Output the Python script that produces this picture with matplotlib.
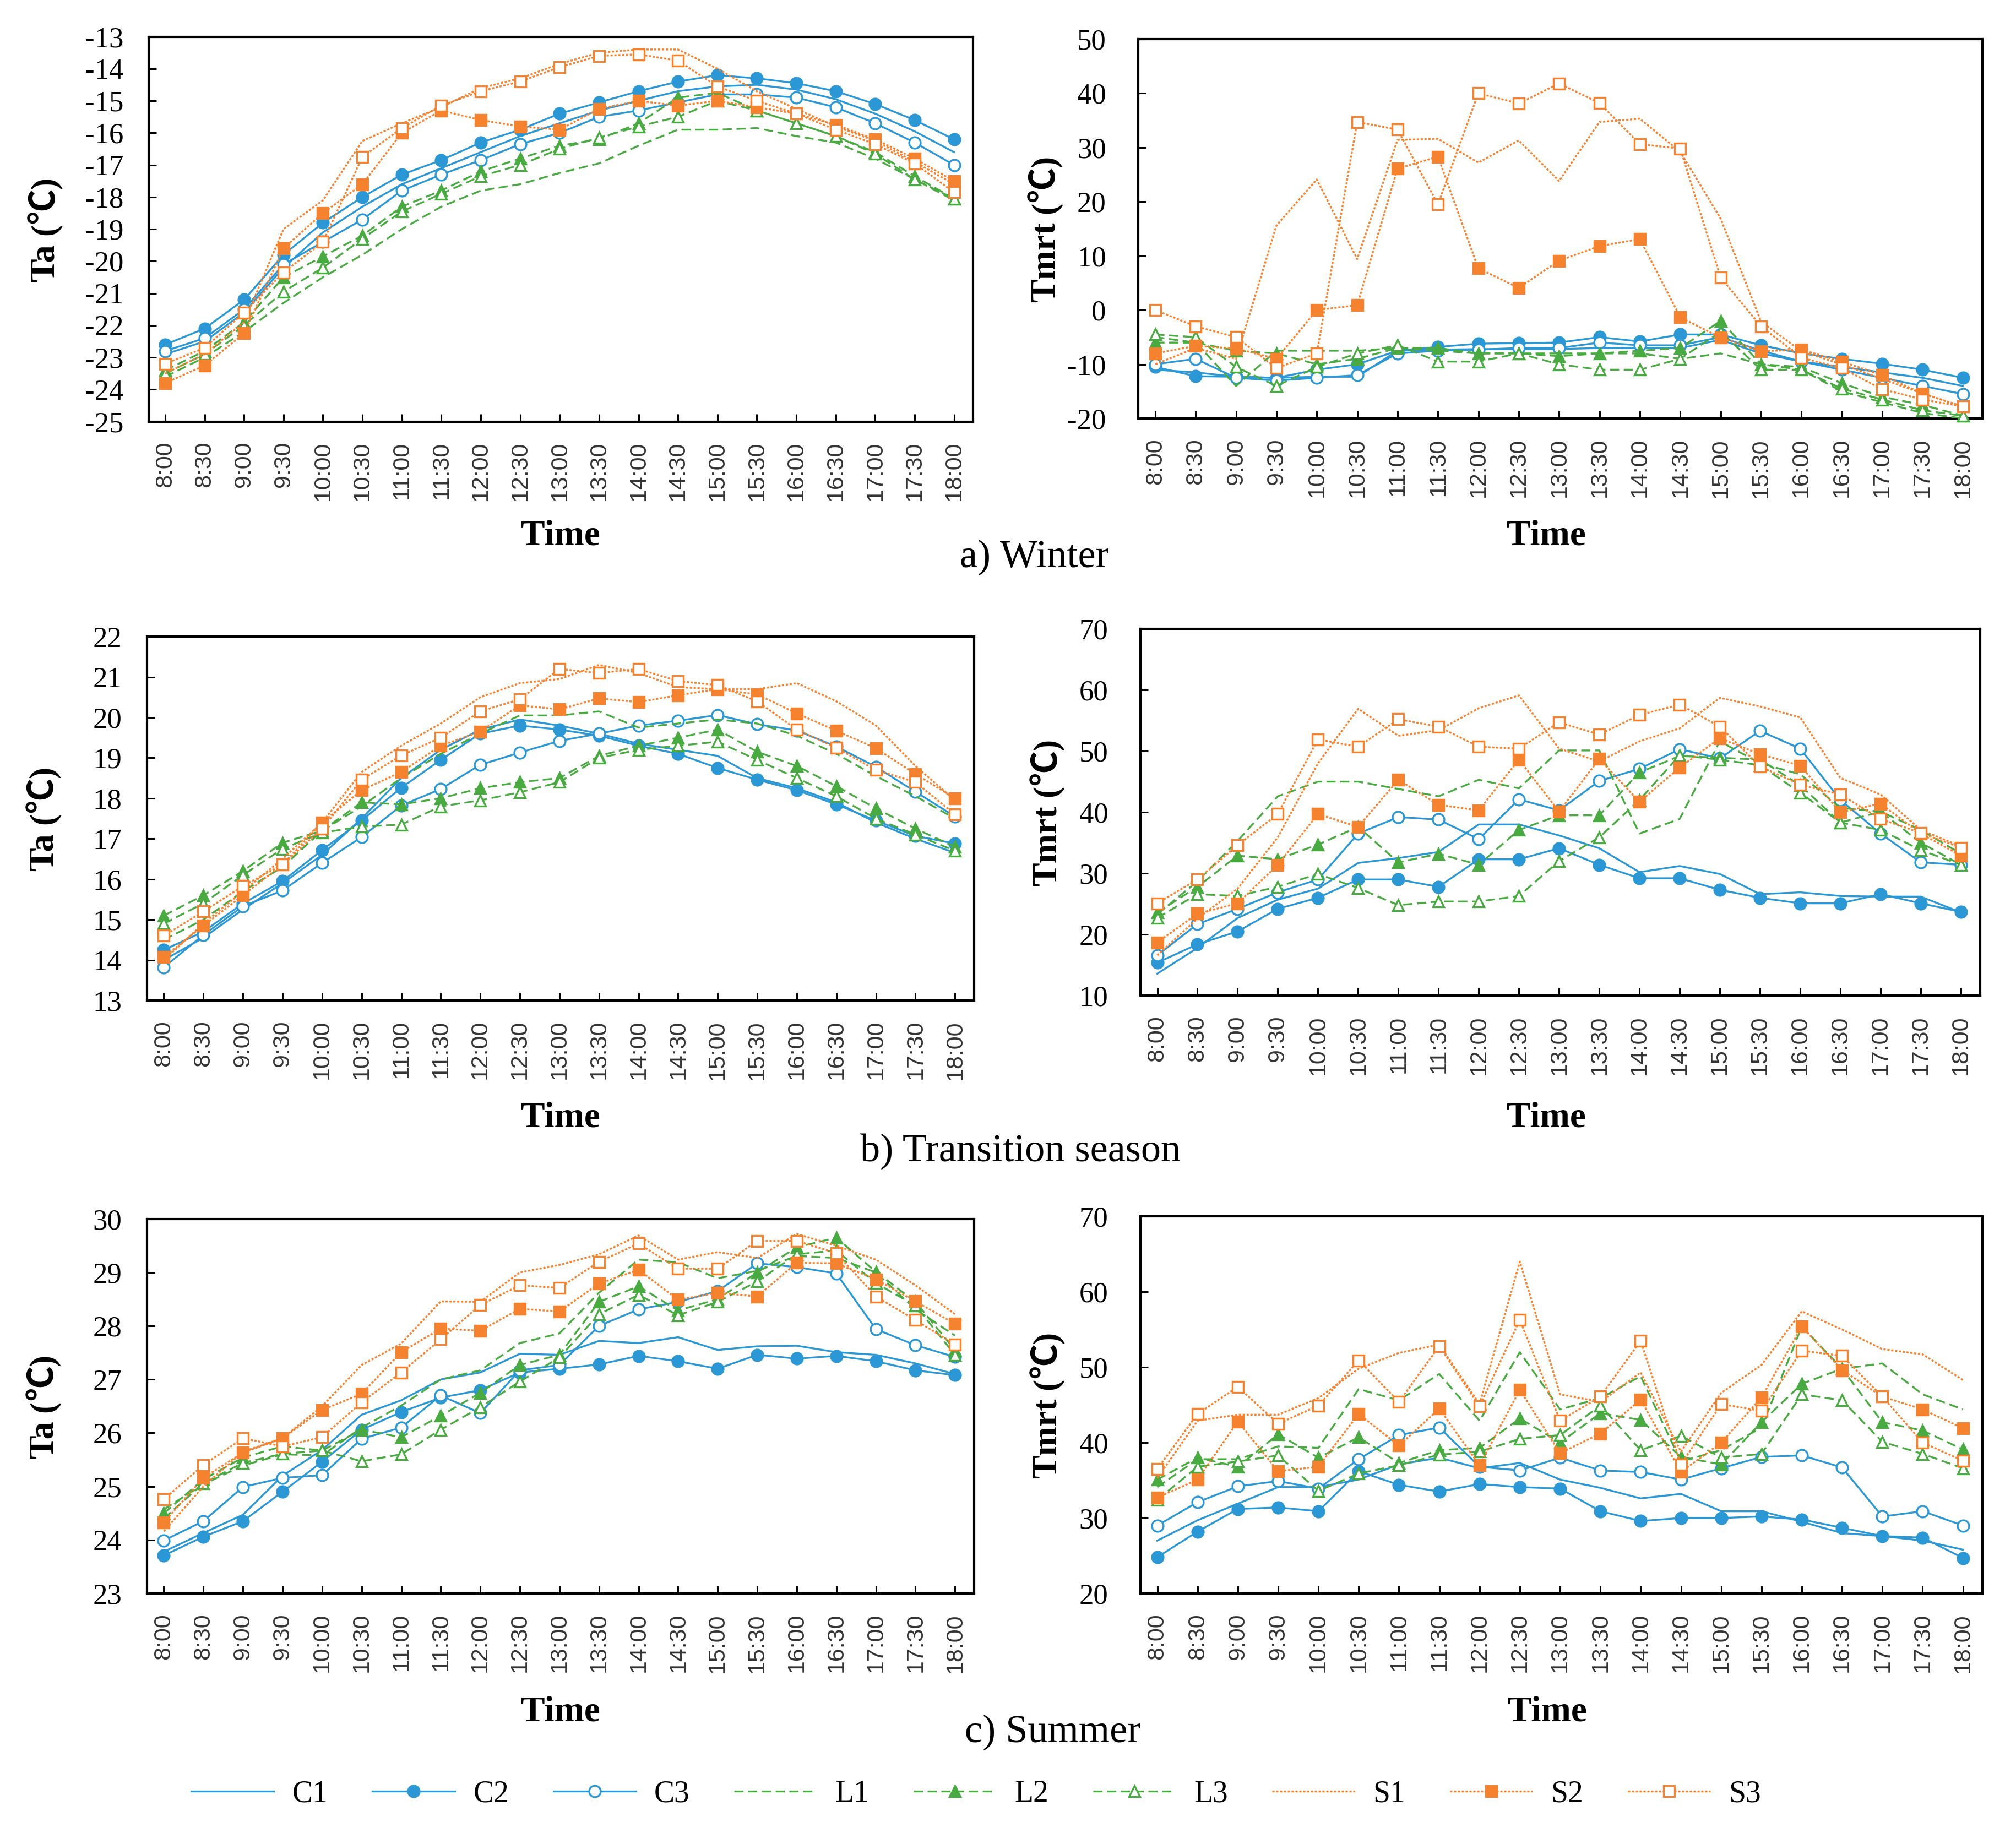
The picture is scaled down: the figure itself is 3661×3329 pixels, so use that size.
import matplotlib
matplotlib.use('Agg')
import matplotlib.pyplot as plt
from matplotlib.lines import Line2D

# ============================================================================
# DATA
# ============================================================================

TIMES = ['8:00', '8:30', '9:00', '9:30', '10:00', '10:30', '11:00', '11:30',
         '12:00', '12:30', '13:00', '13:30', '14:00', '14:30', '15:00', '15:30',
         '16:00', '16:30', '17:00', '17:30', '18:00']
SERIES = ['C1', 'C2', 'C3', 'L1', 'L2', 'L3', 'S1', 'S2', 'S3']

# a) Winter - Ta
winter_ta_c1 = [-22.9, -22.5, -21.6, -20.2, -19.1, -18.3, -17.6, -17.1, -16.6, -16.1, -15.7, -15.3, -15.0, -14.7, -14.55, -14.5, -14.65, -14.95, -15.4, -15.95, -16.6]
winter_ta_c2 = [-22.6, -22.1, -21.2, -19.8, -18.8, -18.0, -17.3, -16.85, -16.3, -15.9, -15.4, -15.05, -14.7, -14.4, -14.2, -14.3, -14.45, -14.7, -15.1, -15.6, -16.2]
winter_ta_c3 = [-22.8, -22.4, -21.5, -20.1, -19.4, -18.7, -17.8, -17.3, -16.85, -16.35, -16.0, -15.5, -15.3, -15.05, -14.8, -14.8, -14.9, -15.2, -15.7, -16.3, -17.0]
winter_ta_l1 = [-23.6, -23.0, -22.2, -21.3, -20.5, -19.8, -19.0, -18.3, -17.8, -17.6, -17.25, -16.95, -16.4, -15.9, -15.9, -15.85, -16.1, -16.3, -16.8, -17.45, -18.1]
winter_ta_l2 = [-23.4, -22.8, -21.9, -20.5, -19.85, -19.2, -18.3, -17.8, -17.2, -16.8, -16.4, -16.2, -15.7, -14.9, -14.75, -15.3, -15.7, -16.1, -16.6, -17.35, -18.05]
winter_ta_l3 = [-23.5, -22.9, -22.0, -20.95, -20.2, -19.3, -18.45, -17.9, -17.35, -17.0, -16.5, -16.15, -15.8, -15.5, -15.0, -15.3, -15.7, -16.1, -16.65, -17.45, -18.05]
winter_ta_s1 = [-23.5, -22.9, -21.9, -19.0, -18.1, -16.25, -15.7, -15.2, -14.6, -14.3, -13.85, -13.5, -13.4, -13.4, -14.0, -14.7, -15.25, -15.8, -16.25, -16.9, -17.6]
winter_ta_s2 = [-23.8, -23.25, -22.25, -19.6, -18.5, -17.6, -16.0, -15.3, -15.6, -15.8, -15.9, -15.25, -15.0, -15.15, -15.0, -15.2, -15.4, -15.75, -16.2, -16.8, -17.5]
winter_ta_s3 = [-23.2, -22.7, -21.6, -20.35, -19.4, -16.75, -15.85, -15.15, -14.7, -14.4, -13.95, -13.6, -13.55, -13.75, -14.55, -15.0, -15.4, -15.9, -16.35, -16.95, -17.85]

# a) Winter - Tmrt
winter_tmrt_c1 = [-11, -11.5, -12.3, -12.5, -12.3, -12.3, -7.5, -7.3, -7.2, -7.2, -7.2, -7, -7, -7, -5.5, -8, -9.5, -10.5, -11.5, -12.5, -14]
winter_tmrt_c2 = [-10.5, -12.2, -12.3, -12.5, -11, -10, -7.5, -6.8, -6.2, -6.1, -6, -5, -5.8, -4.5, -4.5, -6.5, -8, -9, -9.9, -11, -12.5]
winter_tmrt_c3 = [-10, -9, -12.5, -13, -12.5, -12, -8, -7.5, -7.3, -7, -7, -6, -6.5, -6.5, -5, -7.5, -9.5, -11, -12.5, -14, -15.5]
winter_tmrt_l1 = [-5, -6, -14, -7.5, -7.5, -7.5, -7, -7.5, -8, -8, -8, -8, -8, -9, -8, -10, -11, -15, -17, -19, -20]
winter_tmrt_l2 = [-6, -6, -7.5, -8, -10, -9, -7, -7, -8, -8, -8.5, -8, -7.5, -7, -2, -10, -10.5, -13.5, -16, -17.5, -19.5]
winter_tmrt_l3 = [-4.5, -5, -10.5, -14, -10.5, -8, -6.5, -9.5, -9.5, -8, -10, -11, -11, -9, -4, -11, -11, -14.5, -16.5, -18.5, -19.5]
winter_tmrt_s1 = [-10, -7, -9, 15.6, 24.1, 9.4, 31.4, 31.6, 27.2, 31.3, 23.8, 34.7, 35.3, 29.2, 16.9, -2.1, -7.6, -10, -12.7, -15.4, -17.8]
winter_tmrt_s2 = [-8, -6.6, -7.1, -9, 0, 0.9, 26.1, 28.3, 7.7, 4.1, 9.1, 11.8, 13.1, -1.3, -5.1, -7.6, -7.3, -9.5, -12, -15.4, -17.8]
winter_tmrt_s3 = [0, -3, -5, -10.7, -8, 34.7, 33.3, 19.5, 40, 38.1, 41.8, 38.2, 30.6, 29.8, 6.0, -3, -8.8, -10.7, -14.6, -16.5, -17.8]

# b) Transition season - Ta
trans_ta_c1 = [14.0, 14.55, 15.25, 15.9, 16.6, 17.5, 18.5, 19.2, 19.7, 19.95, 19.8, 19.6, 19.35, 19.2, 19.05, 18.5, 18.25, 17.9, 17.4, 17.0, 16.65]
trans_ta_c2 = [14.25, 14.7, 15.4, 15.95, 16.72, 17.45, 18.26, 18.95, 19.6, 19.8, 19.7, 19.55, 19.3, 19.1, 18.75, 18.46, 18.2, 17.85, 17.45, 17.07, 16.88]
trans_ta_c3 = [13.82, 14.62, 15.33, 15.72, 16.4, 17.04, 17.82, 18.23, 18.83, 19.13, 19.42, 19.6, 19.8, 19.92, 20.06, 19.83, 19.68, 19.28, 18.78, 18.16, 17.55]
trans_ta_l1 = [14.5, 15.0, 15.7, 16.3, 17.2, 17.8, 18.5, 19.1, 19.6, 20.05, 20.05, 20.15, 19.75, 19.85, 19.95, 19.85, 19.55, 19.1, 18.55, 18.05, 17.5]
trans_ta_l2 = [15.1, 15.6, 16.2, 16.9, 17.2, 17.9, 17.85, 18.0, 18.25, 18.4, 18.5, 19.05, 19.3, 19.5, 19.7, 19.15, 18.8, 18.3, 17.75, 17.25, 16.8]
trans_ta_l3 = [14.9, 15.4, 16.1, 16.75, 17.15, 17.3, 17.35, 17.8, 17.95, 18.15, 18.4, 19.0, 19.2, 19.3, 19.4, 18.95, 18.5, 18.05, 17.5, 17.1, 16.7]
trans_ta_s1 = [14.0, 14.9, 15.7, 16.5, 17.4, 18.65, 19.3, 19.85, 20.5, 20.85, 20.95, 21.3, 21.1, 20.75, 20.7, 20.7, 20.85, 20.4, 19.8, 18.8, 17.95]
trans_ta_s2 = [14.07, 14.85, 15.6, 16.36, 17.4, 18.2, 18.65, 19.3, 19.65, 20.3, 20.2, 20.47, 20.38, 20.55, 20.7, 20.57, 20.1, 19.67, 19.24, 18.6, 18.0]
trans_ta_s3 = [14.6, 15.2, 15.83, 16.36, 17.25, 18.46, 19.06, 19.5, 20.15, 20.45, 21.2, 21.1, 21.2, 20.9, 20.8, 20.4, 19.7, 19.25, 18.7, 18.4, 17.6]

# b) Transition season - Tmrt
trans_tmrt_c1 = [13.6, 17.8, 22.7, 25.7, 27.5, 31.7, 32.5, 33.5, 38, 38, 36.2, 34.1, 30.2, 31.2, 29.9, 26.6, 26.9, 26.3, 26.2, 26.2, 23.6]
trans_tmrt_c2 = [15.4, 18.4, 20.5, 24.2, 26, 29, 29, 27.8, 32.3, 32.3, 34.1, 31.4, 29.2, 29.2, 27.3, 26, 25.1, 25.1, 26.6, 25.1, 23.7]
trans_tmrt_c3 = [16.6, 21.7, 24.2, 26.9, 29, 36.5, 39.2, 38.8, 35.6, 42.1, 40.3, 45.1, 47.1, 50.3, 48.8, 53.3, 50.4, 42, 36.5, 31.8, 31.4]
trans_tmrt_l1 = [23.3, 28.7, 35.3, 42.6, 45, 45, 43.8, 42.6, 45.3, 43.9, 50.1, 50.1, 36.5, 38.9, 51.6, 48, 46.2, 40.7, 40.1, 37.1, 33.2]
trans_tmrt_l2 = [23.6, 27.8, 32.9, 32.3, 34.7, 37.6, 31.8, 33.2, 31.4, 37.1, 39.5, 39.5, 46.5, 49.2, 48.9, 48.6, 44.4, 38.3, 40.1, 35, 31.4]
trans_tmrt_l3 = [22.7, 26.6, 26.3, 27.8, 29.9, 27.6, 24.8, 25.4, 25.4, 26.3, 32, 35.9, 42, 49.3, 48.6, 47.7, 43.2, 38.3, 37.1, 33.8, 31.4]
trans_tmrt_s1 = [16.6, 22.6, 27.5, 35.9, 48, 56.9, 52.5, 53.4, 57, 59.1, 50.4, 48.3, 51.6, 53.7, 58.7, 57.3, 55.5, 45.6, 42.9, 37.1, 34.4]
trans_tmrt_s2 = [18.7, 23.4, 25.1, 31.4, 39.7, 37.6, 45.3, 41.2, 40.3, 48.6, 40.1, 48.7, 41.7, 47.3, 52.1, 49.5, 47.6, 40, 41.4, 36.5, 32.9]
trans_tmrt_s3 = [25.1, 29, 34.6, 39.7, 51.9, 50.7, 55.2, 54, 50.7, 50.4, 54.7, 52.7, 55.9, 57.6, 54, 47.5, 44.5, 42.9, 38.9, 36.6, 34.2]

# c) Summer - Ta
summer_ta_c1 = [23.78, 24.13, 24.47, 25.2, 25.68, 26.34, 26.61, 27.0, 27.13, 27.48, 27.46, 27.72, 27.68, 27.79, 27.55, 27.62, 27.63, 27.51, 27.46, 27.3, 27.1]
summer_ta_c2 = [23.71, 24.06, 24.35, 24.9, 25.46, 26.06, 26.39, 26.66, 26.8, 27.13, 27.2, 27.28, 27.44, 27.34, 27.2, 27.46, 27.39, 27.44, 27.34, 27.17, 27.08]
summer_ta_c3 = [23.99, 24.35, 24.99, 25.16, 25.21, 25.89, 26.1, 26.7, 26.37, 27.17, 27.27, 28.0, 28.31, 28.45, 28.65, 29.17, 29.1, 28.98, 27.94, 27.64, 27.42]
summer_ta_l1 = [24.57, 25.04, 25.39, 25.6, 25.58, 26.1, 26.51, 27.0, 27.17, 27.68, 27.86, 28.62, 29.24, 29.19, 28.89, 29.03, 29.31, 29.27, 29.0, 28.31, 27.82]
summer_ta_l2 = [24.5, 25.13, 25.54, 25.75, 25.67, 26.06, 25.92, 26.32, 26.75, 27.27, 27.46, 28.45, 28.74, 28.29, 28.5, 29.0, 29.47, 29.65, 29.01, 28.45, 27.55]
summer_ta_l3 = [24.4, 25.06, 25.44, 25.61, 25.67, 25.47, 25.6, 26.06, 26.48, 26.96, 27.41, 28.22, 28.58, 28.2, 28.45, 28.83, 29.34, 29.41, 28.8, 28.38, 27.46]
summer_ta_s1 = [24.16, 25.0, 25.65, 25.9, 26.5, 27.27, 27.67, 28.46, 28.45, 29.0, 29.14, 29.34, 29.69, 29.24, 29.38, 29.27, 29.72, 29.5, 29.24, 28.76, 28.22]
summer_ta_s2 = [24.33, 25.16, 25.63, 25.9, 26.43, 26.73, 27.51, 27.95, 27.91, 28.32, 28.27, 28.79, 29.05, 28.49, 28.62, 28.55, 29.18, 29.17, 28.87, 28.46, 28.04]
summer_ta_s3 = [24.76, 25.4, 25.9, 25.75, 25.92, 26.57, 27.13, 27.75, 28.39, 28.76, 28.71, 29.2, 29.54, 29.07, 29.07, 29.59, 29.59, 29.36, 28.55, 28.11, 27.65]

# c) Summer - Tmrt
summer_tmrt_c1 = [27, 29.7, 31.9, 34.1, 34.1, 35.1, 37.1, 38, 36.6, 37.3, 35.1, 34, 32.6, 33.2, 30.9, 30.9, 29.5, 28, 27.6, 27, 25.8]
summer_tmrt_c2 = [24.8, 28.2, 31.2, 31.4, 30.9, 36.2, 34.4, 33.5, 34.5, 34.1, 33.9, 30.9, 29.6, 30, 30, 30.2, 29.8, 28.7, 27.6, 27.4, 24.7]
summer_tmrt_c3 = [29, 32.1, 34.2, 34.9, 33.9, 37.8, 41, 42, 36.8, 36.3, 38, 36.3, 36.1, 35.1, 36.6, 38.1, 38.3, 36.7, 30.2, 30.9, 29]
summer_tmrt_l1 = [34.1, 37.8, 37.8, 39.5, 39.3, 47.1, 45.6, 49.1, 42.9, 52, 44.4, 45.9, 48.8, 37.5, 39, 42, 55.4, 49.8, 50.5, 46.4, 44.4]
summer_tmrt_l2 = [35.1, 38, 36.8, 41.1, 38, 40.7, 37.3, 39, 39.3, 43.2, 40, 43.9, 43, 38.1, 37.1, 42.7, 47.8, 49.8, 42.7, 41.6, 39.1]
summer_tmrt_l3 = [32.4, 36.8, 37.5, 38.3, 33.6, 35.9, 37, 38.4, 38.8, 40.5, 41, 44.9, 39, 40.9, 38, 38.5, 46.4, 45.6, 40.1, 38.5, 36.6]
summer_tmrt_s1 = [35.3, 42.9, 43.7, 43.7, 45.9, 49.8, 51.9, 53, 45.1, 64, 46.4, 45.4, 49.3, 38.8, 46.6, 50.3, 57.4, 55, 52.4, 51.7, 48.3]
summer_tmrt_s2 = [32.7, 35.1, 42.8, 36.2, 36.8, 43.8, 39.6, 44.5, 37, 47, 38.6, 41.2, 45.7, 36.1, 40, 46, 55.4, 49.6, 46.1, 44.4, 41.9]
summer_tmrt_s3 = [36.5, 43.8, 47.4, 42.5, 44.9, 50.9, 45.4, 52.8, 44.8, 56.3, 42.9, 46.1, 53.5, 37.1, 45.1, 44.2, 52.2, 51.5, 46.1, 40, 37.6]

# ============================================================================
# STYLE
# ============================================================================

BLUE = '#2B97D4'
GREEN = '#4AAA42'
ORANGE = '#F5822F'

SOLID = '-'
DASHED = (0, (5, 2.5))
DOTTED = (0, (1.2, 0.9))

STYLES = {
    'C1': dict(color=BLUE, linestyle=SOLID, marker=None, filled=True),
    'C2': dict(color=BLUE, linestyle=SOLID, marker='o', filled=True),
    'C3': dict(color=BLUE, linestyle=SOLID, marker='o', filled=False),
    'L1': dict(color=GREEN, linestyle=DASHED, marker=None, filled=True),
    'L2': dict(color=GREEN, linestyle=DASHED, marker='^', filled=True),
    'L3': dict(color=GREEN, linestyle=DASHED, marker='^', filled=False),
    'S1': dict(color=ORANGE, linestyle=DOTTED, marker=None, filled=True),
    'S2': dict(color=ORANGE, linestyle=DOTTED, marker='s', filled=True),
    'S3': dict(color=ORANGE, linestyle=DOTTED, marker='s', filled=False),
}

LW = 2.4
MS = 15
SERIF = ['Liberation Serif', 'DejaVu Serif']
SANS = ['Liberation Sans', 'DejaVu Sans']
CJK = ['Noto Sans CJK SC', 'DejaVu Sans']

plt.rcParams['font.family'] = SERIF
plt.rcParams['axes.unicode_minus'] = False

FIG_W, FIG_H = 36.62, 33.29


def line_kwargs(name):
    st = STYLES[name]
    kw = dict(color=st['color'], linestyle=st['linestyle'], linewidth=LW)
    if st['marker']:
        kw.update(marker=st['marker'], markersize=MS, markeredgewidth=2.4,
                  markeredgecolor=st['color'],
                  markerfacecolor=st['color'] if st['filled'] else 'white')
    return kw


def vertical_label(fig, x_center, y_center, parts, size):
    """Rotated bold label built from pieces so the degree sign can use a CJK font."""
    renderer = fig.canvas.get_renderer()
    em = size / 72 * fig.dpi
    baseline_x = x_center + 0.33 * em / fig.bbox.width
    pieces = []
    total = 0.0
    for s, fam in parts:
        if s == ' ':
            adv = 0.25 * em / fig.bbox.height
            pieces.append((None, adv))
            total += adv
            continue
        t = fig.text(0, 0, s, fontsize=size, fontweight='bold', family=fam)
        adv = t.get_window_extent(renderer).width / fig.bbox.height
        t.set_rotation(90)
        t.set_rotation_mode('anchor')
        t.set_ha('left')
        t.set_va('baseline')
        pieces.append((t, adv))
        total += adv
    y = y_center - total / 2
    for t, adv in pieces:
        if t is not None:
            t.set_position((baseline_x, y))
        y += adv


def draw_panel(fig, rect, series, ylim, ystep, ylabel, ypad, label_off):
    ax = fig.add_axes(rect)
    x = list(range(len(TIMES)))
    for i, name in enumerate(SERIES):
        ax.plot(x, series[i], zorder=2 + i, clip_on=False, **line_kwargs(name))
    ax.set_xlim(-0.42, len(TIMES) - 1 + 0.48)
    ax.set_ylim(*ylim)
    ax.set_yticks(range(ylim[0], ylim[1] + 1, ystep))
    ax.set_xticks(x)
    ax.set_xticklabels(TIMES, rotation=90, fontsize=31, family=SANS, color='#333333')
    for lab in ax.get_yticklabels():
        lab.set_fontsize(38)
    ax.tick_params(axis='x', direction='in', length=10, width=2.2, pad=26)
    ax.tick_params(axis='y', direction='in', length=10, width=2.2, pad=ypad)
    for sp in ax.spines.values():
        sp.set_linewidth(3)
    vertical_label(fig, rect[0] - label_off, rect[1] + rect[3] / 2,
                   [(ylabel, SERIF), (' ', None), ('(', SERIF), ('℃', CJK), (')', SERIF)], 46)
    return ax


fig = plt.figure(figsize=(FIG_W, FIG_H), dpi=100, facecolor='white')

panels = [
    ([0.0737, 0.7700, 0.4088, 0.2100],
     [winter_ta_c1, winter_ta_c2, winter_ta_c3, winter_ta_l1, winter_ta_l2,
      winter_ta_l3, winter_ta_s1, winter_ta_s2, winter_ta_s3], (-25, -13), 1, 'Ta'),
    ([0.5645, 0.7717, 0.4185, 0.2070],
     [winter_tmrt_c1, winter_tmrt_c2, winter_tmrt_c3, winter_tmrt_l1, winter_tmrt_l2,
      winter_tmrt_l3, winter_tmrt_s1, winter_tmrt_s2, winter_tmrt_s3], (-20, 50), 10, 'Tmrt'),
    ([0.0730, 0.4542, 0.4100, 0.1985],
     [trans_ta_c1, trans_ta_c2, trans_ta_c3, trans_ta_l1, trans_ta_l2,
      trans_ta_l3, trans_ta_s1, trans_ta_s2, trans_ta_s3], (13, 22), 1, 'Ta'),
    ([0.5655, 0.4568, 0.4165, 0.2002],
     [trans_tmrt_c1, trans_tmrt_c2, trans_tmrt_c3, trans_tmrt_l1, trans_tmrt_l2,
      trans_tmrt_l3, trans_tmrt_s1, trans_tmrt_s2, trans_tmrt_s3], (10, 70), 10, 'Tmrt'),
    ([0.0730, 0.1307, 0.4100, 0.2043],
     [summer_ta_c1, summer_ta_c2, summer_ta_c3, summer_ta_l1, summer_ta_l2,
      summer_ta_l3, summer_ta_s1, summer_ta_s2, summer_ta_s3], (23, 30), 1, 'Ta'),
    ([0.5655, 0.1307, 0.4175, 0.2057],
     [summer_tmrt_c1, summer_tmrt_c2, summer_tmrt_c3, summer_tmrt_l1, summer_tmrt_l2,
      summer_tmrt_l3, summer_tmrt_s1, summer_tmrt_s2, summer_tmrt_s3], (20, 70), 10, 'Tmrt'),
]

TIME_Y = [0.7077, 0.7077, 0.390, 0.390, 0.066, 0.066]
for idx, ((rect, series, ylim, ystep, ylabel), ty) in enumerate(zip(panels, TIME_Y)):
    left_col = idx % 2 == 0
    draw_panel(fig, rect, series, ylim, ystep, ylabel,
               ypad=33 if left_col else 42,
               label_off=0.0527 if left_col else 0.0475)
    tx = rect[0] + rect[2] / 2 if left_col else rect[0] + rect[2] / 2 - 0.007
    fig.text(tx, ty, 'Time', ha='center', va='center',
             fontsize=47, fontweight='bold')

# Row captions
fig.text(0.513, 0.696, 'a) Winter', ha='center', va='center', fontsize=52)
fig.text(0.506, 0.372, 'b) Transition season', ha='center', va='center', fontsize=52)
fig.text(0.522, 0.055, 'c) Summer', ha='center', va='center', fontsize=52)

# Legend
handles = [Line2D([], [], label=name, **line_kwargs(name)) for name in SERIES]
fig.legend(handles=handles, loc='center', bbox_to_anchor=(0.484, 0.0213), ncol=9,
           frameon=False, fontsize=40, handlelength=2.7, columnspacing=1.45,
           handletextpad=0.6)

fig.savefig('out.png', dpi=100, facecolor='white')
